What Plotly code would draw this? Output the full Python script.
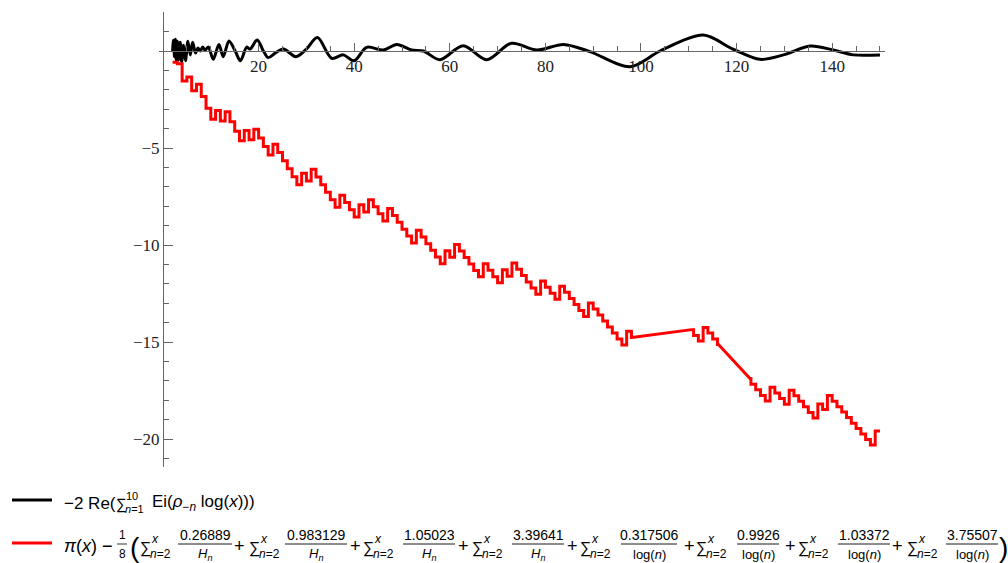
import math
import plotly.graph_objects as go

# ---- black curve: -2 Re(sum Ei(rho log x)) sampled along x ----
black_x = [2.0, 2.2, 2.4, 2.6, 2.8, 3.0, 3.3, 3.6, 3.9, 4.3, 4.7, 5.2, 5.7, 6.2, 6.8, 7.3,
           7.8, 8.3, 8.8, 9.5, 10.5, 11.7, 12.6, 13.8, 15.1, 16.2, 17.5, 18.2, 19.7, 21.0,
           22.0, 23.5, 25.2, 27.8, 30.0, 32.3, 35.3, 37.7, 40.0, 42.6, 46.1, 48.9, 52.0,
           54.5, 57.9, 62.8, 67.7, 72.9, 78.2, 83.8, 89.3, 97.7, 104.0, 113.0, 119.3,
           124.9, 129.8, 135.4, 140.2, 144.4, 150.0]
black_y = [0.0, 0.55, -0.3, 0.6, -0.5, 0.5, -0.45, 0.45, -0.55, 0.3, -0.5, 0.5, -0.2, 0.45,
           -0.1, 0.15, 0.0, 0.2, 0.05, 0.2, -0.43, 0.34, -0.29, 0.52, 0.0, -0.5, 0.2, 0.1,
           0.57, 0.0, -0.34, -0.1, 0.1, -0.29, 0.1, 0.69, -0.38, -0.2, -0.5, 0.19, 0.05,
           0.34, 0.05, 0.0, -0.45, 0.27, -0.45, 0.4, 0.05, 0.34, -0.03, -0.81, 0.0, 0.82,
           0.09, -0.43, -0.2, 0.26, 0.05, -0.2, -0.2]

# ---- red step function: level on [n, n+1) for n = 2 .. 150 ----
red_n = list(range(2, 151))
red_levels = [
    -0.58, -0.66, -1.55, -1.34, -2.05, -1.72, -2.35, -2.95, -3.52, -3.07,   # 2-11
    -3.61, -3.13, -3.64, -4.14, -4.62, -4.10, -4.57, -4.03, -4.48, -4.92,   # 12-21
    -5.36, -4.80, -5.23, -5.65, -6.07, -6.48, -6.89, -6.30, -6.70, -6.10,   # 22-31
    -6.50, -6.89, -7.28, -7.67, -8.05, -7.43, -7.81, -8.18, -8.56, -7.93,   # 32-41
    -8.30, -7.66, -8.03, -8.39, -8.76, -8.12, -8.48, -8.83, -9.19, -9.54,   # 42-51
    -9.89, -9.24, -9.58, -9.93, -10.27, -10.62, -10.96, -10.30, -10.63, -9.97,  # 52-61
    -10.31, -10.64, -10.98, -11.31, -11.64, -10.97, -11.30, -11.63, -11.95, -11.28,  # 62-71
    -11.61, -10.93, -11.25, -11.57, -11.90, -12.22, -12.54, -11.85, -12.17, -12.49,  # 72-81
    -12.80, -12.12, -12.43, -12.75, -13.06, -13.37, -13.68, -12.99, -13.30, -13.61,  # 82-91
    -13.92, -14.23, -14.53, -14.84, -15.15, -14.45, -14.76, -15.06, -15.36, -14.66,  # 92-101
    -14.97, -14.27, -14.57, -14.87, -15.17, -14.47, -14.76, -14.06, -14.36, -14.66,  # 102-111
    -14.95, -14.25, -14.54, -14.84, -15.13, -15.42, -15.72, -16.01, -16.30, -16.59,  # 112-121
    -16.88, -17.17, -17.46, -17.75, -18.04, -17.33, -17.62, -17.91, -18.20, -17.48,  # 122-131
    -17.77, -18.05, -18.34, -18.63, -18.91, -18.19, -18.48, -17.76, -18.05, -18.33,  # 132-141
    -18.61, -18.89, -19.18, -19.46, -19.74, -20.02, -20.30, -19.58, -19.86,          # 142-150
]
# x-intervals drawn as a staircase; consecutive intervals are joined by straight chords
red_runs = [(2.0, 98.1), (110.6, 116.2), (122.8, 150.0)]

level = dict(zip(red_n, red_levels))
red_px, red_py = [], []
for a, b in red_runs:
    red_px.append(a)
    red_py.append(level[int(math.floor(a))])
    n = int(math.floor(a)) + 1
    while n < b:
        red_px += [n, n]
        red_py += [level[n - 1], level[n]]
        n += 1
    red_px.append(b)
    red_py.append(level[int(math.ceil(b)) - 1])

# ---- geometry ----
W, H = 1008, 563
PL, PR, PT, PB = 159, 885, 12, 467           # plot-area edges in pixels
X0, X1 = -0.84, 151.05
Y0, Y1 = -21.44, 2.01

fig = go.Figure()
fig.add_trace(go.Scatter(x=black_x, y=black_y, mode="lines",
                         line=dict(color="black", width=3, shape="spline", smoothing=0.9),
                         showlegend=False, hoverinfo="skip"))
fig.add_trace(go.Scatter(x=red_px, y=red_py, mode="lines",
                         line=dict(color="#ff0000", width=3),
                         showlegend=False, hoverinfo="skip"))

axis_col = "#666666"
tick_font = dict(family="Liberation Serif", size=17, color="#222222")
fig.update_layout(
    width=W, height=H,
    margin=dict(l=PL, r=W - PR, t=PT, b=H - PB, pad=0),
    paper_bgcolor="white", plot_bgcolor="white",
    xaxis=dict(range=[X0, X1], anchor="free", position=(0 - Y0) / (Y1 - Y0),
               showline=True, linecolor=axis_col, linewidth=1, showgrid=False, zeroline=False,
               tickmode="array", tickvals=[20, 40, 60, 80, 100, 120, 140],
               ticks="inside", ticklen=8, tickcolor=axis_col, tickfont=tick_font,
               minor=dict(tickmode="linear", tick0=0, dtick=5, ticks="inside", ticklen=5,
                          tickcolor=axis_col, showgrid=False)),
    yaxis=dict(range=[Y0, Y1], anchor="free", position=(0 - X0) / (X1 - X0),
               showline=True, linecolor=axis_col, linewidth=1, showgrid=False, zeroline=False,
               tickmode="array", tickvals=[-20, -15, -10, -5],
               ticktext=["\u221220", "\u221215", "\u221210", "\u22125"],
               ticks="inside", ticklen=9, tickcolor=axis_col, tickfont=tick_font,
               minor=dict(tickmode="linear", tick0=0, dtick=1, ticks="inside", ticklen=5,
                          tickcolor=axis_col, showgrid=False)),
)


def paper(px, py):
    return (px - PL) / (PR - PL), (PB - py) / (PB - PT)


annotations = []
shapes = []


def text(s, px, py, size=17, anchor="left"):
    x, y = paper(px, py)
    annotations.append(dict(text=s, x=x, y=y, xref="paper", yref="paper",
                            xanchor=anchor, yanchor="middle", showarrow=False,
                            font=dict(family="Liberation Sans", size=size, color="black")))


def hline(x0, x1, py, color="black", width=1.0):
    a, y = paper(x0, py)
    b, _ = paper(x1, py)
    shapes.append(dict(type="line", xref="paper", yref="paper", x0=a, x1=b, y0=y, y1=y,
                       line=dict(color=color, width=width)))


# legend row 1
hline(12, 52, 500, "black", 3)
text("\u22122 Re(", 62, 503, 17)
text("\u2211", 114, 504, 15)
text("10", 124, 496, 11)
text("<i>n</i>=1", 123, 509, 11)
text("Ei(<i>\u03c1</i><sub>\u2212<i>n</i></sub> log(<i>x</i>)))", 150, 503, 17)

# legend row 2
hline(12, 52, 543, "#ff0000", 3)
text("<i>\u03c0</i>(<i>x</i>) \u2212", 62, 546, 18)
text("1", 122, 535, 12, "center")
text("8", 122, 554, 12, "center")
hline(117, 127, 544, "black", 0.8)
text("(", 128, 547, 28)

numerators = ["0.26889", "0.983129", "1.05023", "3.39641",
              "0.317506", "0.9926", "1.03372", "3.75507"]
denominators = ["<i>H</i><sub><i>n</i></sub>"] * 4 + ["log(<i>n</i>)"] * 4
sum_left = [138, 247, 361, 470, 578, 694, 796, 905]
frac_center = [205, 316, 429, 538, 649, 758, 864, 972]
frac_width = [54, 62, 52, 52, 56, 42, 52, 52]
plus_center = [239, 355, 463, 572, 689, 790, 898]

for k in range(8):
    s = sum_left[k]
    text("\u2211", s, 548, 16)
    text("<i>x</i>", s + 11, 539, 12)
    text("<i>n</i>=2", s + 10, 554, 12)
    c = frac_center[k]
    text(numerators[k], c, 535, 14, "center")
    text(denominators[k], c, 554, 13, "center")
    hline(c - frac_width[k] / 2, c + frac_width[k] / 2, 544, "black", 0.9)
    if k < 7:
        text("+", plus_center[k], 546, 18, "center")
text(")", 1003, 547, 28, "center")

fig.update_layout(annotations=annotations, shapes=shapes)
fig.write_html("out.html")
